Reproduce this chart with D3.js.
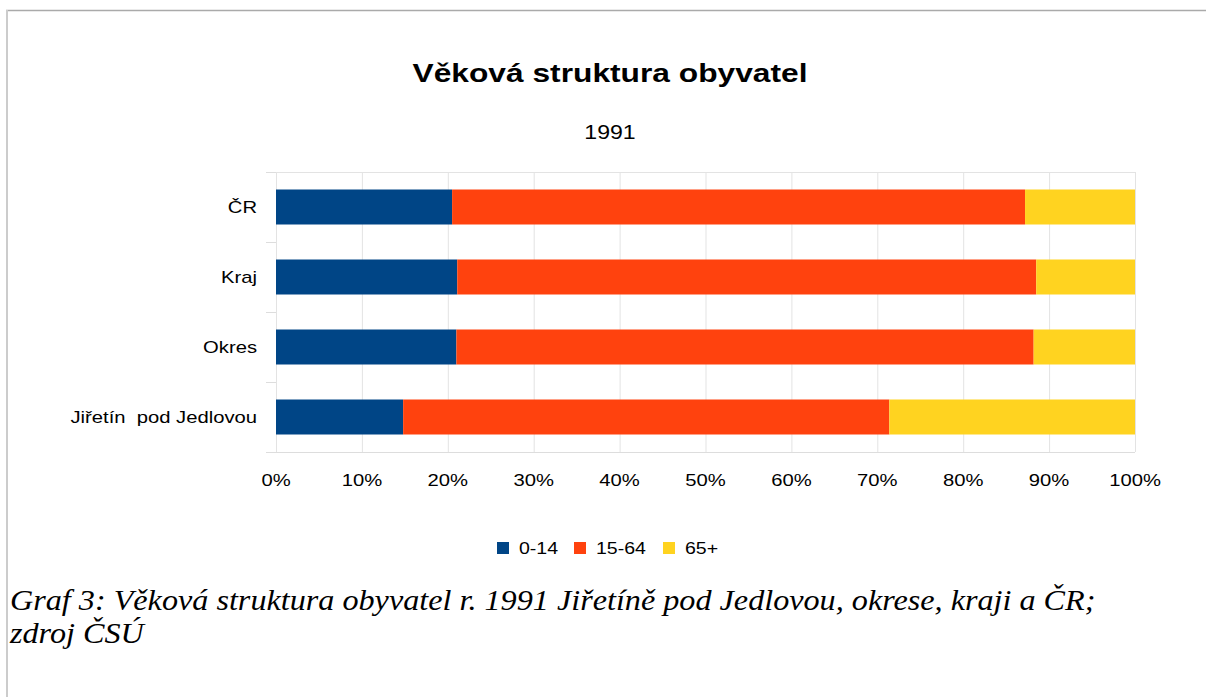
<!DOCTYPE html>
<meta charset="utf-8">
<script src="https://d3js.org/d3.v7.min.js"></script>
<style>
  body { margin: 0; background: #fff; }
  svg { display: block; }
</style>
<body>
<div id="chart"></div>
<script>
  // categories top to bottom
  var categories = ["ČR", "Kraj", "Okres", "Jiřetín  pod Jedlovou"];
  var seriesNames = ["0-14", "15-64", "65+"];
  // shares in %
  var age0_14 = [20.5, 21.1, 21.0, 14.8];
  var age15_64 = [66.7, 67.4, 67.2, 56.6];
  var age65 = [12.8, 11.5, 11.8, 28.6];
  var tickValues = [0, 10, 20, 30, 40, 50, 60, 70, 80, 90, 100];
  var colours = ["#004586", "#ff420e", "#ffd320"];

  var width = 1206, height = 697;
  var plotLeft = 276, plotRight = 1135, plotTop = 172, plotBottom = 452;

  var svg = d3.select("#chart").append("svg")
      .attr("width", width)
      .attr("height", height);

  // page frame
  svg.append("line").attr("x1", 6).attr("x2", 1206).attr("y1", 10.5).attr("y2", 10.5)
      .attr("stroke", "#aaa").attr("stroke-width", 1.5);
  svg.append("line").attr("x1", 7).attr("x2", 7).attr("y1", 10).attr("y2", 697)
      .attr("stroke", "#ccc").attr("stroke-width", 2);

  var table = categories.map((c, i) => ({cat: c, "0-14": age0_14[i], "15-64": age15_64[i], "65+": age65[i]}));
  var stacked = d3.stack().keys(seriesNames)(table);

  var x = d3.scaleLinear().domain([0, 100]).range([plotLeft, plotRight]);
  var y = d3.scaleBand().domain(categories).range([plotTop, plotBottom]).paddingInner(0.5).paddingOuter(0.25);

  // grid
  svg.append("g").selectAll("line").data(tickValues).join("line")
      .attr("x1", d => x(d) + 0.5).attr("x2", d => x(d) + 0.5)
      .attr("y1", plotTop).attr("y2", plotBottom)
      .attr("stroke", "#e3e3e3").attr("stroke-width", 1);
  svg.append("line").attr("x1", plotLeft).attr("x2", plotRight).attr("y1", plotTop + 0.5).attr("y2", plotTop + 0.5)
      .attr("stroke", "#e3e3e3");
  svg.append("line").attr("x1", plotLeft - 10).attr("x2", plotRight).attr("y1", plotBottom + 0.5).attr("y2", plotBottom + 0.5)
      .attr("stroke", "#ddd");
  // band separators on the y axis
  var bounds = d3.range(categories.length + 1).map(i => plotTop + i * (plotBottom - plotTop) / categories.length);
  svg.append("g").selectAll("line").data(bounds).join("line")
      .attr("x1", plotLeft - 10).attr("x2", plotLeft)
      .attr("y1", d => d + 0.5).attr("y2", d => d + 0.5)
      .attr("stroke", "#ddd");

  // bars
  svg.append("g").selectAll("g").data(stacked).join("g")
      .attr("fill", (d, i) => colours[i])
    .selectAll("rect").data(d => d).join("rect")
      .attr("x", d => x(d[0]))
      .attr("width", d => x(d[1]) - x(d[0]))
      .attr("y", d => y(d.data.cat))
      .attr("height", y.bandwidth());

  // text placed at (tx, ty) and stretched horizontally by sx
  function stretched(sel, tx, ty, sx) {
    return sel.attr("transform", function (d, i) {
      var px = typeof tx === "function" ? tx(d, i) : tx;
      var py = typeof ty === "function" ? ty(d, i) : ty;
      return "translate(" + px + "," + py + ") scale(" + sx + ",1)";
    });
  }

  var font = "'Liberation Sans', Arial, sans-serif";
  stretched(svg.append("g").selectAll("text").data(categories).join("text"),
      plotLeft - 19, d => y(d) + y.bandwidth() / 2, 1.19)
      .attr("dy", "0.35em")
      .attr("text-anchor", "end")
      .attr("font-family", font).attr("font-size", 17)
      .style("white-space", "pre")
      .text(d => d);

  stretched(svg.append("g").selectAll("text").data(tickValues).join("text"),
      d => x(d), 486, 1.19)
      .attr("text-anchor", "middle")
      .attr("font-family", font).attr("font-size", 17)
      .text(d => d + "%");

  // titles
  stretched(svg.append("text"), 610, 82, 1.22).attr("text-anchor", "middle")
      .attr("font-family", font).attr("font-size", 26).attr("font-weight", "bold")
      .text("Věková struktura obyvatel");
  stretched(svg.append("text"), 610, 139, 1.1).attr("text-anchor", "middle")
      .attr("font-family", font).attr("font-size", 21)
      .text("1991");

  // legend
  var legendX = [497, 574, 663];
  var lg = svg.append("g").selectAll("g").data(seriesNames).join("g")
      .attr("transform", (d, i) => "translate(" + legendX[i] + ",542)");
  lg.append("rect").attr("width", 12).attr("height", 12).attr("fill", (d, i) => colours[i]);
  stretched(lg.append("text"), 22, 12, 1.15)
      .attr("font-family", font).attr("font-size", 17)
      .text(d => d);

  // caption
  var serif = "'Liberation Serif', 'Times New Roman', serif";
  stretched(svg.append("text"), 10, 610, 1.11)
      .attr("font-family", serif).attr("font-size", 29).attr("font-style", "italic")
      .text("Graf 3: Věková struktura obyvatel r. 1991 Jiřetíně pod Jedlovou, okrese, kraji a ČR;");
  stretched(svg.append("text"), 10, 643, 1.11)
      .attr("font-family", serif).attr("font-size", 29).attr("font-style", "italic")
      .text("zdroj ČSÚ");
</script>
</body>
